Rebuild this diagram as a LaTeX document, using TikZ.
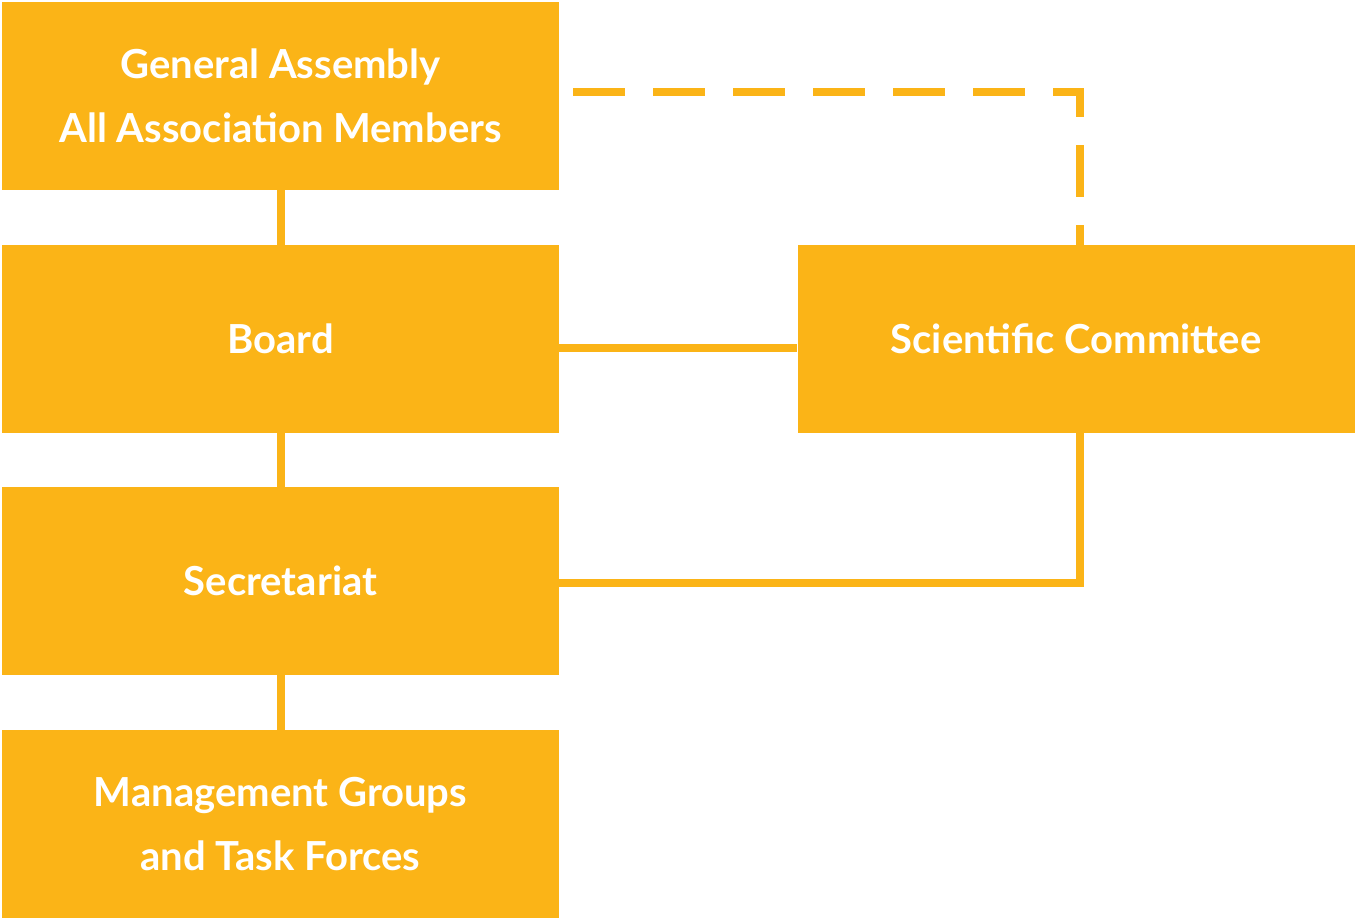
\documentclass[tikz,border=0pt]{standalone}
\usepackage{fontspec}
\setmainfont{Lato}
\usetikzlibrary{positioning}
\definecolor{gold}{HTML}{FBB417}
\tikzset{
  box/.style={fill=gold, text=white, minimum width=278.5pt, minimum height=94pt,
    align=center, inner sep=0pt, font=\fontsize{20}{32}\selectfont\bfseries},
  link/.style={draw=gold, line width=4pt},
}
\begin{document}
\begin{tikzpicture}[x=0.5pt, y=-0.5pt]
  \useasboundingbox (0,0) rectangle (1355,919);
  % Left column
  \node[box] (ga) at (280.5, 96) {General Assembly\\All Association Members};
  \node[box] (board) at (280.5, 339) {Board};
  \node[box] (sec) at (280.5, 581) {Secretariat};
  \node[box] (mgmt) at (280.5, 824) {Management Groups\\and Task Forces};
  % Right side
  \node[box] (sc) at (1076, 339) {Scientific Committee};

  % Vertical chain
  \draw[link] (ga) -- (board);
  \draw[link] (board) -- (sec);
  \draw[link] (sec) -- (mgmt);

  % Links to the committee
  \draw[link, dash pattern=on 26pt off 14pt, dash phase=-7pt]
    (ga.east |- 0,92) -- (1080,92) -- (sc.north -| 1080,0);
  \draw[link] (board.east |- 0,348) -- (sc.west |- 0,348);
  \draw[link] (sec.east |- 0,583) -- (1080,583) -- (sc.south -| 1080,0);
\end{tikzpicture}
\end{document}
